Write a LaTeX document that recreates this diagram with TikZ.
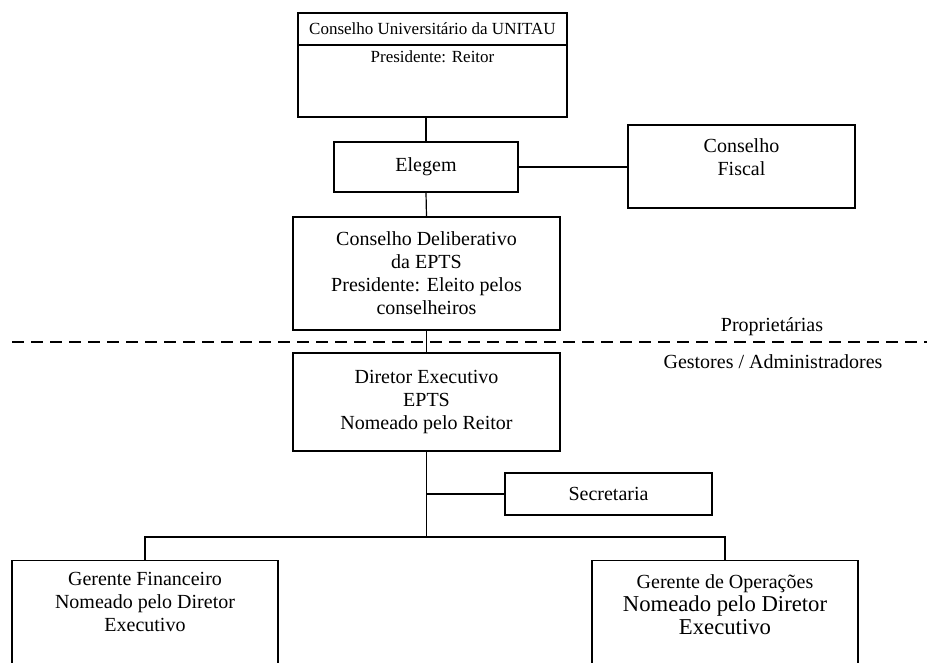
\documentclass[tikz,border=0pt]{standalone}
\usepackage{fontspec}
\setmainfont{Liberation Serif}
\usetikzlibrary{positioning}
\newcommand{\fonteMaior}{\fontsize{22.7}{27}\selectfont}

\begin{document}
\begin{tikzpicture}[
  x=1pt, y=-1pt,
  caixa/.style={rectangle, draw, line width=1.2pt, inner sep=0pt, align=center,
    font=\fontsize{20}{23}\selectfont},
  gerente/.style={caixa, anchor=north, minimum width=266pt, inner ysep=12pt, text depth=90pt},
  texto/.style={align=center, inner sep=0pt, font=\fontsize{20}{23}\selectfont},
  liga/.style={line width=1.2pt}]
  \useasboundingbox (0,0) rectangle (927,662);
  \clip (0,0) rectangle (927,662);

  % conselho universitario
  \node[caixa, minimum width=269pt, minimum height=104pt] (cu) at (432.5,65) {};
  \node[texto, font=\fontsize{17}{20}\selectfont] (cuTitulo) at (432.5,29) {Conselho Universitário da UNITAU};
  \node[texto, font=\fontsize{17}{20}\selectfont] (cuPres) at (432.5,57) {Presidente: Reitor};
  \coordinate (divisa) at (0,45);
  \draw[liga] (cu.west |- divisa) -- (cu.east |- divisa);

  \node[caixa, minimum width=184pt, minimum height=50pt] (elegem) at (426,167) {Elegem};
  \node[caixa, minimum width=227pt, minimum height=83pt, text depth=19pt] (fiscal) at (741.5,166.5) {Conselho\\Fiscal};
  \node[caixa, minimum width=267pt, minimum height=113pt] (delib) at (426.5,273.5)
    {Conselho Deliberativo\\da EPTS\\Presidente: Eleito pelos\\conselheiros};

  % linha entre proprietarias e gestores
  \coordinate (tracoIni) at (12,342);
  \coordinate (tracoFim) at (927,342);
  \draw[liga, dash pattern=on 12pt off 7pt] (tracoIni) -- (tracoFim);
  \node[texto] (propr) at (772,327) {Proprietárias};
  \node[texto] (gestores) at (773,362) {Gestores / Administradores};

  \node[caixa, minimum width=267pt, minimum height=98pt] (diretor) at (426.5,402)
    {Diretor Executivo\\EPTS\\Nomeado pelo Reitor};
  \node[caixa, minimum width=207pt, minimum height=42pt] (secretaria) at (608.5,494) {Secretaria};
  \node[gerente] (gf) at (145,560) {Gerente Financeiro\\Nomeado pelo Diretor\\Executivo};
  \node[gerente, inner ysep=14pt] (go) at (725,560)
    {Gerente de Operações\\\fonteMaior Nomeado pelo Diretor\\\fonteMaior Executivo};

  % ligacoes
  \coordinate (ramo) at (426.5,537);
  \draw[liga] (cu.south -| elegem.north) -- (elegem.north);
  \draw[liga] (elegem.east) -- (elegem.east -| fiscal.west);
  \draw[liga] (elegem.south) -- (delib.north);
  \draw[liga] (delib.south) -- (diretor.north);
  \draw[liga] (diretor.south) -- (ramo);
  \draw[liga] (secretaria.west) -- (secretaria.west -| ramo);
  \draw[liga] (gf.north) |- (ramo) -| (go.north);
\end{tikzpicture}
\end{document}
